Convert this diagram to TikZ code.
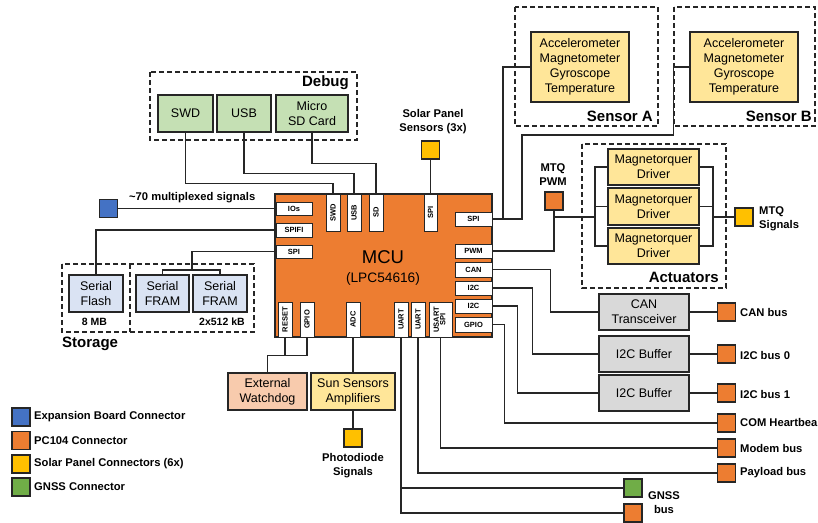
\documentclass[tikz,border=0pt]{standalone}
\usepackage{fontspec}
\setmainfont{Liberation Sans}
\usepackage{graphicx}
\definecolor{mcuor}{HTML}{ED7D31}
\definecolor{yel}{HTML}{FFC000}
\definecolor{blu}{HTML}{4472C4}
\definecolor{grn}{HTML}{70AD47}
\definecolor{lgrn}{HTML}{C5E0B4}
\definecolor{lyel}{HTML}{FFE699}
\definecolor{lblu}{HTML}{DAE3F3}
\definecolor{lgry}{HTML}{D9D9D9}
\definecolor{salm}{HTML}{F8CBAD}
\definecolor{ln}{HTML}{262626}
\begin{document}
\begin{tikzpicture}[x=1pt,y=-1pt,
  box/.style={draw=ln, line width=1.4pt, inner sep=1pt, align=center, font=\fontsize{12.5}{15}\selectfont},
  port/.style={draw=ln, fill=white, line width=1pt, inner sep=0pt, font=\fontsize{7.5}{8.5}\selectfont\bfseries},
  hport/.style={port, minimum width=37pt, minimum height=14pt},
  vport/.style={port, minimum width=14pt, minimum height=36pt},
  conn/.style={draw=ln, line width=1.4pt, minimum width=18pt, minimum height=18pt, inner sep=0pt},
  wire/.style={line width=1.5pt, draw=ln},
  grp/.style={draw=ln, line width=1.2pt, dash pattern=on 5pt off 3pt},
  lbl/.style={font=\fontsize{11.2}{14}\selectfont\bfseries, inner sep=0pt, align=center},
  ttl/.style={font=\fontsize{15}{17}\selectfont\bfseries, inner sep=0pt}
]
\useasboundingbox (0,0) rectangle (818,522);
\fill[white] (0,0) rectangle (818,522);

% groups
\draw[grp] (150,72) rectangle (357,140);
\draw[grp] (515,7) rectangle (658,126);
\draw[grp] (674,7) rectangle (815,126);
\draw[grp] (582,144) rectangle (726,288);
\draw[grp] (62,264) rectangle (254,332);
\draw[grp] (130,264) -- (130,332);

\node[ttl, anchor=east] (tdebug) at (349,83) {Debug};
\node[ttl, anchor=east] (tsensa) at (653,116) {Sensor A};
\node[ttl, anchor=east] (tsensb) at (812,116) {Sensor B};
\node[ttl, anchor=east] (tact) at (719,277) {Actuators};
\node[ttl, anchor=west] (tstor) at (62,344) {Storage};
\node[lbl, font=\fontsize{10.5}{12}\selectfont\bfseries] (t8mb) at (94.5,322) {8 MB};
\node[lbl, font=\fontsize{10.5}{12}\selectfont\bfseries] (t2x) at (222,322) {2x512 kB};

% MCU
\node[draw=ln, fill=mcuor, line width=1.4pt, minimum width=217pt, minimum height=143pt, inner sep=0pt] (mcu) at (383.5,265.5) {};
\node[inner sep=0pt, font=\fontsize{18.5}{20}\selectfont] (mcut) at (383,257) {MCU};
\node[inner sep=0pt, font=\fontsize{13.7}{16}\selectfont] (mcus) at (383,278.5) {(LPC54616)};

% ports
\node[port, minimum width=36pt, minimum height=13pt] (IOs) at (294,208.5) {IOs};
\node[port, minimum width=36pt, minimum height=14pt] (SPIFI) at (294,230) {SPIFI};
\node[port, minimum width=36pt, minimum height=13pt] (SPIL) at (294,251.5) {SPI};
\node[vport, minimum height=37pt] (SWD) at (333,212.5) {\rotatebox{90}{SWD}};
\node[vport, minimum height=37pt] (USB) at (354,212.5) {\rotatebox{90}{USB}};
\node[vport, minimum height=37pt] (SD) at (376,212.5) {\rotatebox{90}{SD}};
\node[vport, minimum height=37pt, minimum width=13pt] (SPIT) at (430.5,212.5) {\rotatebox{90}{SPI}};
\node[hport] (SPIR) at (473.5,219) {SPI};
\node[hport] (PWM) at (473.5,251) {PWM};
\node[hport, minimum height=15pt] (CAN) at (473.5,269.5) {CAN};
\node[hport] (I2CA) at (473.5,288) {I2C};
\node[hport] (I2CB) at (473.5,306) {I2C};
\node[hport, minimum height=15pt] (GPIOR) at (473.5,324.5) {GPIO};
\node[vport, minimum height=35pt] (RESET) at (285,319.5) {\rotatebox{90}{RESET}};
\node[vport, minimum height=35pt] (GPIOB) at (307,319.5) {\rotatebox{90}{GPIO}};
\node[vport, minimum height=35pt] (ADC) at (353,319.5) {\rotatebox{90}{ADC}};
\node[vport, minimum height=35pt] (UARTA) at (401,319.5) {\rotatebox{90}{UART}};
\node[vport, minimum height=35pt] (UARTB) at (418,319.5) {\rotatebox{90}{UART}};
\node[vport, minimum height=35pt, minimum width=23pt] (USART) at (440.5,319.5) {\rotatebox{90}{\begin{tabular}{@{}c@{}}USART\\[-2pt]SPI\end{tabular}}};

% debug boxes
\node[box, fill=lgrn, minimum width=55pt, minimum height=37pt] (swdc) at (185.5,113.5) {SWD};
\node[box, fill=lgrn, minimum width=54pt, minimum height=37pt] (usbc) at (244,113.5) {USB};
\node[box, fill=lgrn, minimum width=72pt, minimum height=37pt] (sdc) at (312,113.5) {Micro\\SD Card};

% sensors
\node[box, fill=lyel, minimum width=98pt, minimum height=70pt] (sensA) at (580,67) {Accelerometer\\Magnetometer\\Gyroscope\\Temperature};
\node[box, fill=lyel, minimum width=108pt, minimum height=70pt] (sensB) at (744,67) {Accelerometer\\Magnetometer\\Gyroscope\\Temperature};

% actuators
\node[box, fill=lyel, minimum width=91pt, minimum height=36pt] (drv1) at (653.5,167) {Magnetorquer\\Driver};
\node[box, fill=lyel, minimum width=91pt, minimum height=37pt] (drv2) at (653.5,206.5) {Magnetorquer\\Driver};
\node[box, fill=lyel, minimum width=91pt, minimum height=36pt] (drv3) at (653.5,246) {Magnetorquer\\Driver};

% storage
\node[box, fill=lblu, minimum width=54pt, minimum height=37pt] (flash) at (96,293.5) {Serial\\Flash};
\node[box, fill=lblu, minimum width=53pt, minimum height=37pt] (fram1) at (162.5,293.5) {Serial\\FRAM};
\node[box, fill=lblu, minimum width=54pt, minimum height=37pt] (fram2) at (220,293.5) {Serial\\FRAM};

% bottom boxes
\node[box, fill=salm, minimum width=79pt, minimum height=37pt] (wd) at (267.5,391.5) {External\\Watchdog};
\node[box, fill=lyel, minimum width=84pt, minimum height=37pt] (sun) at (353,391.5) {Sun Sensors\\Amplifiers};
\node[box, fill=lgry, minimum width=90pt, minimum height=36pt] (cant) at (644,312) {CAN\\Transceiver};
\node[box, fill=lgry, minimum width=90pt, minimum height=36pt] (buf1) at (644,354) {I2C Buffer};
\node[box, fill=lgry, minimum width=90pt, minimum height=36pt] (buf2) at (644,393) {I2C Buffer};

% connectors
\node[conn, fill=blu] (blue) at (108.5,208.5) {};
\node[conn, fill=yel] (solar) at (430.5,150) {};
\node[conn, fill=mcuor] (mtq) at (554,201) {};
\node[conn, fill=yel] (mtqs) at (744,217) {};
\node[conn, fill=mcuor] (canb) at (726.5,312) {};
\node[conn, fill=mcuor] (i2c0) at (726.5,354) {};
\node[conn, fill=mcuor] (i2c1) at (726.5,393) {};
\node[conn, fill=mcuor] (com) at (726.5,423) {};
\node[conn, fill=mcuor] (modem) at (726.5,448) {};
\node[conn, fill=mcuor] (payl) at (726.5,473) {};
\node[conn, fill=grn] (gnss) at (633,488) {};
\node[conn, fill=mcuor] (gnssb) at (633,513) {};
\node[conn, fill=yel] (pd) at (353,438) {};

% legend
\node[conn, fill=blu] (lg1) at (21,417) {};
\node[conn, fill=mcuor] (lg2) at (21,440.5) {};
\node[conn, fill=yel] (lg3) at (21,464) {};
\node[conn, fill=grn] (lg4) at (21,487) {};
\node[lbl, anchor=west] (lt1) at (34,417) {Expansion Board Connector};
\node[lbl, anchor=west] (lt2) at (34,440.5) {PC104 Connector};
\node[lbl, anchor=west] (lt3) at (34,464) {Solar Panel Connectors (6x)};
\node[lbl, anchor=west] (lt4) at (34,487) {GNSS Connector};

% labels
\node[lbl, anchor=west] (l70) at (129,197.5) {\textasciitilde70 multiplexed signals};
\node[lbl] (lsolar) at (433,122) {Solar Panel\\Sensors (3x)};
\node[lbl] (lmtq) at (553,174.5) {MTQ\\PWM};
\node[lbl, anchor=west, align=left] (lmtqs) at (759,218.5) {MTQ\\Signals};
\node[lbl, anchor=west] (lcan) at (740,312) {CAN bus};
\node[lbl, anchor=west] (li0) at (740,355) {I2C bus 0};
\node[lbl, anchor=west] (li1) at (740,394) {I2C bus 1};
\node[lbl, anchor=west] (lcom) at (740,422.5) {COM Heartbea};
\node[lbl, anchor=west] (lmod) at (740,448) {Modem bus};
\node[lbl, anchor=west] (lpay) at (740,473) {Payload bus};
\node[lbl] (lgnss) at (664,503) {GNSS\\bus};
\node[lbl] (lpd) at (353,465.5) {Photodiode\\Signals};

% wires
\draw[wire] (blue.east) -- (IOs.west);
\draw[wire] (SPIFI.west) -| (flash.north);
\coordinate (fj) at (192,270);
\draw[wire] (SPIL.west) -| (fj);
\draw[wire] (fram1.north) |- (fj) -| (fram2.north);
\draw[wire] (swdc.south) -- ++(0,51) -| (SWD.north);
\draw[wire] (usbc.south) -- ++(0,41) -| (USB.north);
\draw[wire] (sdc.south) -- ++(0,31) -| (SD.north);
\draw[wire] (solar.south) -- (SPIT.north);
\coordinate (ja) at (503,219);
\coordinate (jb) at (522,219);
\draw[wire] (sensA.west) -| (ja) -- (SPIR.east);
\draw[wire] (sensB.west) -- ++(-16,0) -- ++(0,68) -| (jb) -- (ja);
\draw[wire] (mtq.south) |- (PWM.east);
\coordinate (jm) at (554,217);
\coordinate (lb) at (595,217);
\coordinate (rb) at (713,217);
\draw[wire] (jm) -- (lb);
\draw[wire] (drv1.west) -| (lb) |- (drv3.west);
\draw[wire] (drv2.west) -- (drv2.west -| lb);
\draw[wire] (drv1.east) -| (rb) |- (drv3.east);
\draw[wire] (drv2.east) -- (drv2.east -| rb);
\draw[wire] (rb) -- (mtqs.west);
\draw[wire] (CAN.east) -- ++(58,0) |- (cant.west);
\draw[wire] (I2CA.east) -- ++(40,0) |- (buf1.west);
\draw[wire] (I2CB.east) -- ++(25,0) |- (buf2.west);
\draw[wire] (GPIOR.east) -- ++(12,0) |- (com.west);
\draw[wire] (cant.east) -- (canb.west);
\draw[wire] (buf1.east) -- (i2c0.west);
\draw[wire] (buf2.east) -- (i2c1.west);
\draw[wire] (USART.south) |- (modem.west);
\draw[wire] (UARTB.south) |- (payl.west);
\draw[wire] (UARTA.south) |- (gnss.west);
\draw[wire] (UARTA.south) |- (gnssb.west);
\draw[wire] (RESET.south) -- ++(0,18);
\draw[wire] (GPIOB.south) -- ++(0,18) -| (wd.north);
\draw[wire] (ADC.south) -- (sun.north);
\draw[wire] (sun.south) -- (pd.north);
\end{tikzpicture}
\end{document}
